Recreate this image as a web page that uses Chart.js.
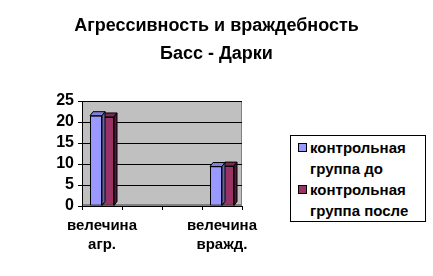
<!DOCTYPE html>
<html>
<head>
<meta charset="utf-8">
<script src="https://cdn.jsdelivr.net/npm/chart.js@4/dist/chart.umd.min.js"></script>
<style>
  html, body { margin: 0; padding: 0; background: #fff; }
  #wrap { position: relative; width: 433px; height: 276px; }
  #title {
    position: absolute; left: 0; top: 11px; width: 433px; text-align: center;
    font: bold 18px "Liberation Sans", Arial, sans-serif; color: #000; line-height: 28px;
  }
  #legend {
    position: absolute; left: 290px; top: 135px; width: 134px; height: 85px;
    border: 1px solid #000; background: #fff;
    font: bold 15px "Liberation Sans", Arial, sans-serif; color: #000;
  }
  .item { position: absolute; left: 7px; }
  .sw { position: absolute; left: 0; top: 6px; width: 7px; height: 7px; border: 1px solid #000; }
  .txt { position: absolute; left: 12px; top: 0; line-height: 21px; white-space: nowrap; }
</style>
</head>
<body>
<div id="wrap">
  <canvas id="c" width="433" height="276"></canvas>
  <div id="title"></div>
  <div id="legend"></div>
</div>
<script>
const titleLines = ['Агрессивность и враждебность', 'Басс - Дарки'];
const categories = [['велечина', 'агр.'], '', '', ['велечина', 'вражд.']];
const seriesNames = [['контрольная', 'группа до'], ['контрольная', 'группа после']];
const seriesBefore = [21.5, null, null, 9.4];
const seriesAfter = [21.2, null, null, 9.5];
const yTicks = [0, 5, 10, 15, 20, 25];

const colors = ['#9999FF', '#993366'];
const topColors = ['#8080E0', '#7A2950'];
const sideColors = ['#6666B0', '#4D1A33'];
const FONT = '"Liberation Sans", Arial, sans-serif';

const bg3d = {
  id: 'bg3d',
  beforeDraw(chart) {
    const { ctx, chartArea: a } = chart;
    ctx.save();
    ctx.fillStyle = '#C0C0C0';
    ctx.fillRect(a.left, a.top, a.right - a.left, a.bottom - a.top);
    ctx.strokeStyle = '#808080';
    ctx.lineWidth = 1;
    ctx.strokeRect(a.left + 0.5, a.top + 0.5, a.right - a.left - 1, a.bottom - a.top - 1);
    ctx.fillStyle = '#808080';
    ctx.fillRect(a.left, a.bottom - 2, a.right - a.left, 3);
    ctx.restore();
  },
  afterDatasetDraw(chart, args) {
    const { ctx } = chart;
    const i = args.index;
    const meta = chart.getDatasetMeta(i);
    const values = chart.data.datasets[i].data;
    const dx = 3, dy = 4;
    ctx.save();
    ctx.strokeStyle = '#000';
    ctx.lineWidth = 1;
    meta.data.forEach((el, j) => {
      if (values[j] == null) return;
      const p = el.getProps(['x', 'y', 'base', 'width'], true);
      const l = p.x - p.width / 2, r = p.x + p.width / 2;
      ctx.beginPath();
      ctx.moveTo(l, p.y); ctx.lineTo(l + dx, p.y - dy); ctx.lineTo(r + dx, p.y - dy); ctx.lineTo(r, p.y); ctx.closePath();
      ctx.fillStyle = topColors[i]; ctx.fill(); ctx.stroke();
      ctx.beginPath();
      ctx.moveTo(r, p.y); ctx.lineTo(r + dx, p.y - dy); ctx.lineTo(r + dx, p.base - dy); ctx.lineTo(r, p.base); ctx.closePath();
      ctx.fillStyle = sideColors[i]; ctx.fill(); ctx.stroke();
    });
    ctx.restore();
  }
};

new Chart(document.getElementById('c'), {
  type: 'bar',
  data: {
    labels: categories,
    datasets: [
      { label: seriesNames[0].join(' '), data: seriesBefore, backgroundColor: colors[0], borderColor: '#000', borderWidth: 1, borderSkipped: false },
      { label: seriesNames[1].join(' '), data: seriesAfter, backgroundColor: colors[1], borderColor: '#000', borderWidth: 1, borderSkipped: false }
    ]
  },
  options: {
    responsive: false,
    animation: false,
    datasets: { bar: { categoryPercentage: 0.6, barPercentage: 1.0 } },
    layout: { padding: { left: 0, right: 191, top: 101, bottom: 0 } },
    plugins: {
      legend: { display: false },
      tooltip: { enabled: false },
      title: { display: false }
    },
    scales: {
      x: {
        grid: { display: true, drawOnChartArea: false, color: '#000', tickLength: 4, offset: true },
        border: { display: true, color: '#000' },
        ticks: { color: '#000', font: { family: FONT, size: 15, weight: 'bold', lineHeight: 1.3 }, maxRotation: 0, autoSkip: false, padding: 6 },
        afterFit(s) { s.height = 70; }
      },
      y: {
        min: 0, max: 25,
        afterBuildTicks(s) { s.ticks = yTicks.map(v => ({ value: v })); },
        grid: { color: '#000', tickLength: 4 },
        border: { display: true, color: '#000' },
        ticks: { color: '#000', font: { family: FONT, size: 16, weight: 'bold' }, padding: 4, autoSkip: false },
        afterFit(s) { s.width = 82; }
      }
    }
  },
  plugins: [bg3d]
});

document.getElementById('title').innerHTML = titleLines.join('<br>');

const lg = document.getElementById('legend');
seriesNames.forEach((lines, i) => {
  const it = document.createElement('div');
  it.className = 'item';
  it.style.top = (i * 42 + 1) + 'px';
  const sw = document.createElement('div');
  sw.className = 'sw';
  sw.style.background = colors[i];
  const tx = document.createElement('div');
  tx.className = 'txt';
  tx.innerHTML = lines.join('<br>');
  it.appendChild(sw); it.appendChild(tx);
  lg.appendChild(it);
});
</script>
</body>
</html>
